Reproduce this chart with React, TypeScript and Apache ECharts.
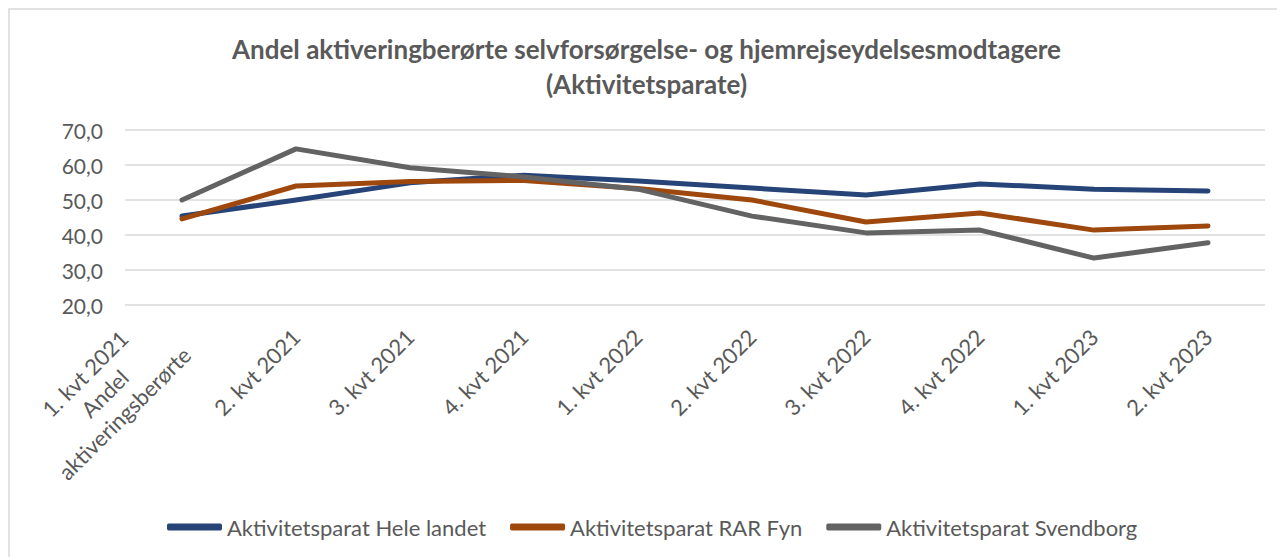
import React, { useEffect, useRef } from "react";
import * as echarts from "echarts";

const categories = [
  "1. kvt 2021\nAndel\naktiveringsberørte",
  "2. kvt 2021",
  "3. kvt 2021",
  "4. kvt 2021",
  "1. kvt 2022",
  "2. kvt 2022",
  "3. kvt 2022",
  "4. kvt 2022",
  "1. kvt 2023",
  "2. kvt 2023",
];

const seriesNames = [
  "Aktivitetsparat Hele landet",
  "Aktivitetsparat RAR Fyn",
  "Aktivitetsparat Svendborg",
];

const heleLandet = [45.4, 50.0, 54.9, 57.1, 55.4, 53.4, 51.4, 54.6, 53.1, 52.6];
const rarFyn = [44.6, 54.0, 55.3, 55.6, 53.3, 50.0, 43.7, 46.3, 41.4, 42.6];
const svendborg = [50.0, 64.6, 59.2, 56.6, 53.1, 45.4, 40.6, 41.4, 33.4, 37.8];

const yMin = 20;
const yMax = 70;
const yInterval = 10;

const colors = ["#264478", "#9E480E", "#636363"];
const textColor = "#595959";
const font = "Lato";

export default function App() {
  const ref = useRef<HTMLDivElement>(null);

  useEffect(() => {
    document.documentElement.style.overflow = "hidden";
    if (!ref.current) return;
    const chart = echarts.init(ref.current, undefined, { renderer: "svg" });
    const data = [heleLandet, rarFyn, svendborg];
    chart.setOption({
      animation: false,
      backgroundColor: "#ffffff",
      title: {
        text: "Andel aktiveringberørte selvforsørgelse- og hjemrejseydelsesmodtagere\n(Aktivitetsparate)",
        left: "center",
        top: 18,
        textStyle: {
          fontFamily: font,
          fontSize: 26,
          fontWeight: "bold",
          color: textColor,
          lineHeight: 35,
        },
      },
      graphic: [
        {
          type: "rect",
          z: -10,
          silent: true,
          shape: { x: 1, y: 1, width: 3000, height: 3000 },
          style: { fill: "none", stroke: "#d9d9d9", lineWidth: 1.5 },
        },
      ],
      legend: {
        left: 154,
        top: 503,
        itemWidth: 55,
        itemHeight: 7,
        itemGap: 24,
        icon: "roundRect",
        textStyle: { fontFamily: font, fontSize: 22, color: textColor },
        data: seriesNames,
      },
      grid: {
        left: 117,
        right: 20,
        top: 122,
        bottom: 252,
        containLabel: false,
        outerBoundsMode: "none",
      },
      xAxis: {
        type: "category",
        data: categories,
        boundaryGap: true,
        axisLine: { show: false },
        axisTick: { show: false },
        axisLabel: {
          rotate: 45,
          interval: 0,
          margin: 28,
          color: textColor,
          fontFamily: font,
          fontSize: 22,
          formatter: (v: string) => {
            if (v.indexOf("\n") >= 0) {
              return (
                v
                  .split("\n")
                  .map((s) => "{c|" + s + "}")
                  .join("\n") + "\n{e| }"
              );
            }
            return v;
          },
          rich: {
            c: {
              width: 195,
              align: "center",
              fontFamily: font,
              fontSize: 22,
              lineHeight: 28,
              color: textColor,
            },
            e: {
              width: 195,
              fontSize: 2,
              lineHeight: 24,
            },
          },
        },
      },
      yAxis: {
        type: "value",
        min: yMin,
        max: yMax,
        interval: yInterval,
        axisLine: { show: false },
        axisTick: { show: false },
        axisLabel: {
          margin: 22,
          color: textColor,
          fontFamily: font,
          fontSize: 21,
          formatter: (v: number) => v.toFixed(1).replace(".", ","),
        },
        splitLine: { lineStyle: { color: "#d9d9d9", width: 1.5 } },
      },
      series: seriesNames.map((name, i) => ({
        name,
        type: "line",
        data: data[i],
        symbol: "none",
        color: colors[i],
        lineStyle: { width: 5, color: colors[i], cap: "round", join: "round" },
      })),
    });
    return () => chart.dispose();
  }, []);

  return <div ref={ref} style={{ width: 1277, height: 549 }} />;
}
